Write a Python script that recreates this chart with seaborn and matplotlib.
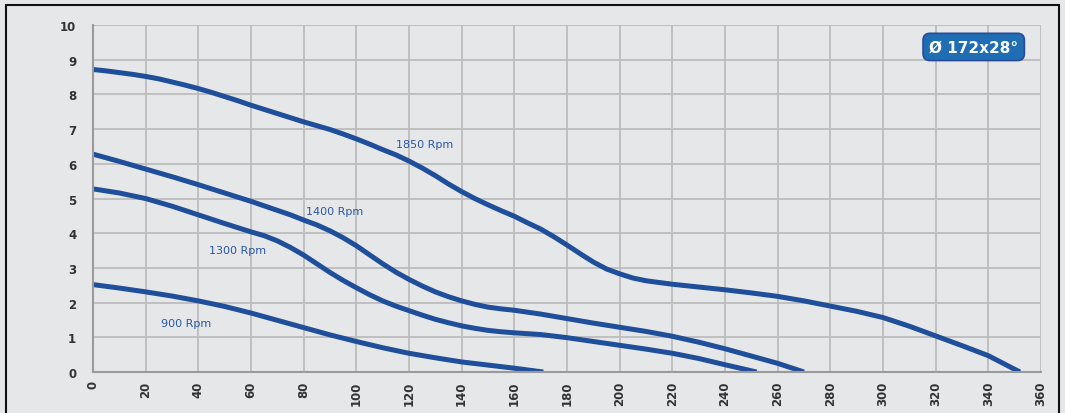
import numpy as np
import pandas as pd
import matplotlib
matplotlib.use("Agg")
import matplotlib.pyplot as plt
import seaborn as sns
from matplotlib.patches import Rectangle

# readings taken off the curves (flow vs pressure)
x_1850 = [0, 5, 10, 15, 20, 25, 30, 35, 40, 45, 50, 55, 60, 65, 70, 75, 80, 85, 90, 95, 100,
          105, 110, 115, 120, 125, 130, 135, 140, 145, 150, 155, 160, 165, 170, 175, 180,
          185, 190, 195, 200, 205, 210, 215, 220, 230, 240, 250, 260, 270, 280, 290, 300,
          310, 320, 330, 340, 352]
y_1850 = [8.72, 8.68, 8.63, 8.58, 8.52, 8.45, 8.36, 8.27, 8.17, 8.06, 7.94, 7.82, 7.69, 7.57,
          7.45, 7.33, 7.21, 7.1, 6.99, 6.86, 6.72, 6.57, 6.41, 6.26, 6.08, 5.88, 5.66, 5.42,
          5.2, 5.0, 4.82, 4.65, 4.49, 4.3, 4.12, 3.9, 3.66, 3.41, 3.17, 2.97, 2.83, 2.71,
          2.63, 2.58, 2.53, 2.45, 2.37, 2.28, 2.18, 2.05, 1.9, 1.75, 1.57, 1.32, 1.04, 0.76,
          0.47, 0.0]

x_1400 = [0, 10, 20, 30, 40, 50, 60, 70, 75, 80, 85, 90, 95, 100, 105, 110, 115, 120, 125,
          130, 135, 140, 145, 150, 155, 160, 170, 180, 190, 200, 210, 220, 230, 240, 250,
          260, 270]
y_1400 = [6.28, 6.07, 5.85, 5.63, 5.4, 5.16, 4.92, 4.66, 4.53, 4.38, 4.24, 4.07, 3.87, 3.64,
          3.38, 3.12, 2.88, 2.67, 2.48, 2.31, 2.17, 2.05, 1.95, 1.87, 1.82, 1.78, 1.67, 1.54,
          1.41, 1.29, 1.17, 1.03, 0.86, 0.67, 0.46, 0.25, 0.0]

x_1300 = [0, 10, 20, 30, 40, 50, 60, 65, 70, 75, 80, 85, 90, 95, 100, 105, 110, 115, 120,
          125, 130, 135, 140, 145, 150, 155, 160, 170, 180, 190, 200, 210, 220, 230, 240, 252]
y_1300 = [5.28, 5.16, 5.0, 4.78, 4.53, 4.28, 4.04, 3.93, 3.78, 3.59, 3.37, 3.12, 2.87, 2.64,
          2.43, 2.23, 2.05, 1.9, 1.77, 1.64, 1.52, 1.42, 1.33, 1.26, 1.2, 1.16, 1.13, 1.08,
          0.99, 0.88, 0.77, 0.66, 0.54, 0.39, 0.21, 0.0]

x_900 = [0, 10, 20, 30, 40, 50, 60, 70, 80, 90, 100, 110, 120, 130, 140, 150, 160, 171]
y_900 = [2.52, 2.42, 2.31, 2.19, 2.05, 1.89, 1.7, 1.49, 1.28, 1.07, 0.88, 0.7, 0.54, 0.41,
         0.29, 0.2, 0.11, 0.0]

curve_labels = ["1850 Rpm", "1400 Rpm", "1300 Rpm", "900 Rpm"]
label_pos = [(115, 6.57), (81, 4.64), (44, 3.52), (26, 1.41)]
badge_text = "Ø 172x28°"

x_ticks = np.arange(0, 361, 20)
y_ticks = np.arange(0, 11, 1)

bg = "#e6e7e9"
line_col = "#1f4e9a"

sns.set_style("whitegrid", {"axes.facecolor": bg, "figure.facecolor": bg,
                            "grid.color": "#bcbcbc", "axes.edgecolor": "#9a9a9a"})
plt.rcParams['font.family'] = ['DejaVu Sans']

fig = plt.figure(figsize=(10.65, 4.14), dpi=100)
ax = fig.add_axes([0.0873, 0.099, 0.8902, 0.838])

curves = [(x_1850, y_1850), (x_1400, y_1400), (x_1300, y_1300), (x_900, y_900)]
for (xs, ys), name in zip(curves, curve_labels):
    df = pd.DataFrame({"q": xs, "p": ys})
    sns.lineplot(data=df, x="q", y="p", ax=ax, color=line_col, linewidth=3.6,
                 sort=False, solid_capstyle="butt", solid_joinstyle="round")

for name, (tx, ty) in zip(curve_labels, label_pos):
    ax.text(tx, ty, name, color="#2a57a3", fontsize=8, va="center", ha="left")

ax.set_xlim(0, 360)
ax.set_ylim(0, 10)
ax.set_xticks(x_ticks)
ax.set_yticks(y_ticks)
ax.set_xticklabels([str(v) for v in x_ticks], rotation=90, fontsize=8.5,
                   fontweight="bold", color="#333333")
ax.set_yticklabels([str(v) for v in y_ticks], fontsize=8.5, fontweight="bold",
                   color="#333333")
ax.tick_params(axis="x", length=0, pad=6)
ax.tick_params(axis="y", length=0, pad=12)
ax.grid(True, color="#bcbcbc", linewidth=1.3)
ax.set_xlabel("")
ax.set_ylabel("")
for side in ["top", "right"]:
    ax.spines[side].set_visible(False)
for side in ["left", "bottom"]:
    ax.spines[side].set_color("#9a9a9a")
    ax.spines[side].set_linewidth(1.5)

ax.text(0.929, 0.937, badge_text, transform=ax.transAxes, ha="center", va="center",
        color="white", fontsize=11, fontweight="bold",
        bbox=dict(boxstyle="round,pad=0.4,rounding_size=0.45", fc="#1f6db3",
                  ec="#2a4a9a", lw=1.2))

# outer frame
fig.patches.append(Rectangle((6 / 1065, -0.01), 1053 / 1065, 1 - 6 / 414 + 0.01,
                             transform=fig.transFigure, fill=False,
                             edgecolor="#111111", linewidth=1.5))

fig.savefig("out.png", dpi=100, facecolor=bg)
